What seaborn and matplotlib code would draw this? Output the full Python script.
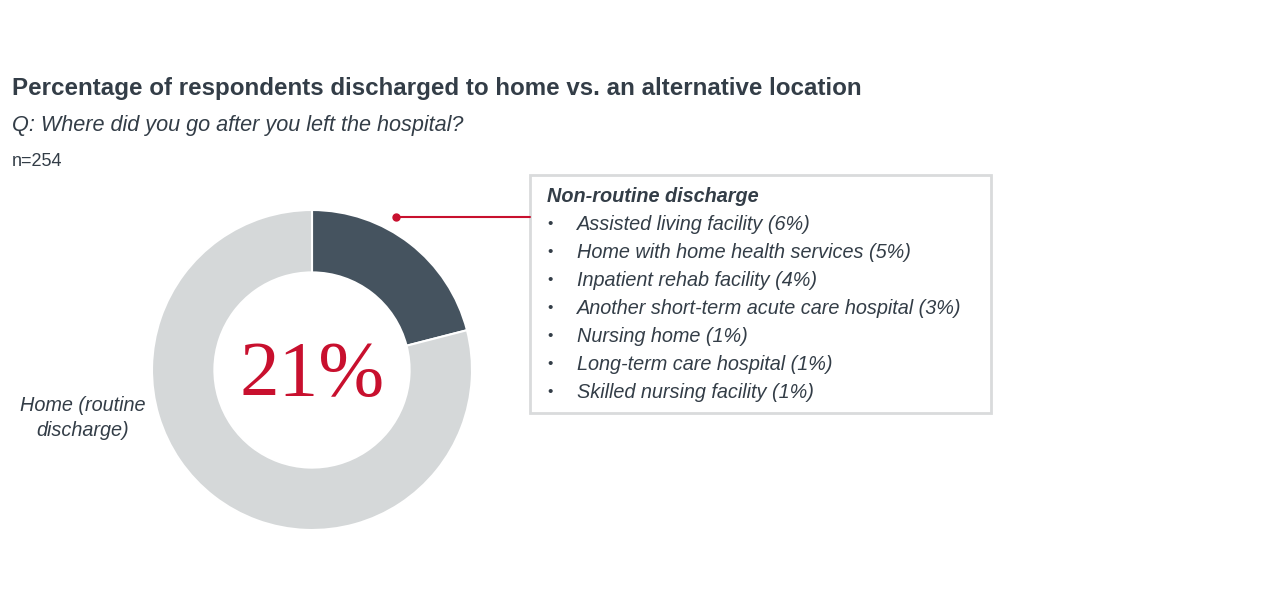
import matplotlib
matplotlib.use("Agg")
import matplotlib.pyplot as plt
from matplotlib.patches import Rectangle
import seaborn as sns

# Data
segments = ["Non-routine discharge", "Home (routine\ndischarge)"]
shares = [21, 79]
destinations = [
    "Assisted living facility",
    "Home with home health services",
    "Inpatient rehab facility",
    "Another short-term acute care hospital",
    "Nursing home",
    "Long-term care hospital",
    "Skilled nursing facility",
]
destination_pct = [6, 5, 4, 3, 1, 1, 1]
n_respondents = 254

sns.set_style("white")
plt.rcParams["font.family"] = ["Liberation Sans", "DejaVu Sans"]

TEXT = "#333d47"
DARK = "#45535f"
LIGHT = "#d5d8d9"
RED = "#c8102e"

W, H = 1280, 607
fig = plt.figure(figsize=(W / 100, H / 100), dpi=100)

# overlay axes in pixel coordinates for text/annotations
bg = fig.add_axes([0, 0, 1, 1])
bg.set_xlim(0, W)
bg.set_ylim(H, 0)
bg.axis("off")

bg.text(12, 88, "Percentage of respondents discharged to home vs. an alternative location",
        fontsize=17.4, fontweight="bold", color=TEXT, va="center", ha="left")
bg.text(12, 125, "Q: Where did you go after you left the hospital?",
        fontsize=15.6, style="italic", color=TEXT, va="center", ha="left")
bg.text(12, 162, f"n={n_respondents}", fontsize=13, color=TEXT, va="center", ha="left")

# donut
cx, cy, r = 312, 370, 160
ax = fig.add_axes([(cx - r) / W, (H - cy - r) / H, 2 * r / W, 2 * r / H])
ax.pie(shares, colors=[DARK, LIGHT], startangle=90, counterclock=False,
       radius=1, wedgeprops=dict(width=0.39, edgecolor="white", linewidth=1.5))
ax.set_xlim(-1, 1)
ax.set_ylim(-1, 1)
ax.axis("off")
ax.text(0, -0.04, f"{shares[0]}%", fontsize=57, color=RED, ha="center", va="center",
        family="Liberation Serif")

bg.text(83, 418, segments[1], fontsize=14.3, style="italic", color=TEXT,
        ha="center", va="center", linespacing=1.35)

# leader line
bg.plot([396, 530], [217, 217], color=RED, lw=1.5)
bg.plot([396], [217], "o", color=RED, ms=5)

# legend box
bg.add_patch(Rectangle((530, 175), 461, 238, fill=False, edgecolor="#d9dbdc", lw=2))
bg.text(547, 196, segments[0], fontsize=14.3, fontweight="bold", style="italic",
        color=TEXT, va="center", ha="left")
for i, (name, pct) in enumerate(zip(destinations, destination_pct)):
    y = 224 + i * 28
    bg.text(547, y, "•", fontsize=11, color=TEXT, va="center", ha="left")
    bg.text(577, y, f"{name} ({pct}%)", fontsize=14.3, style="italic",
            color=TEXT, va="center", ha="left")

fig.savefig("out.png", dpi=100)
